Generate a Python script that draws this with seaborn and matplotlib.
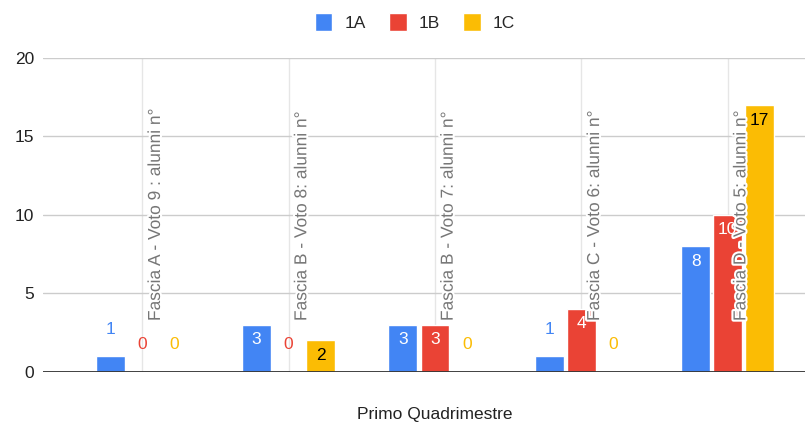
import matplotlib
matplotlib.use("Agg")
import matplotlib.pyplot as plt
import matplotlib.patheffects as pe
import seaborn as sns
import pandas as pd

categories = [
    "Fascia A - Voto 9 : alunni n°",
    "Fascia B - Voto 8: alunni n°",
    "Fascia B - Voto 7: alunni n°",
    "Fascia C - Voto 6: alunni n°",
    "Fascia D - Voto 5: alunni n°",
]
classes = ["1A", "1B", "1C"]
values_1A = [1, 3, 3, 1, 8]
values_1B = [0, 0, 3, 4, 10]
values_1C = [0, 2, 0, 0, 17]
yticks = [0, 5, 10, 15, 20]
x_title = "Primo Quadrimestre"

colors = {"1A": "#4285F4", "1B": "#EA4335", "1C": "#FBBC04"}
inside_text = {"1A": "white", "1B": "white", "1C": "black"}

rows = []
for cls, vals in zip(classes, [values_1A, values_1B, values_1C]):
    for cat, v in zip(categories, vals):
        rows.append({"categoria": cat, "classe": cls, "alunni": v})
df = pd.DataFrame(rows)

sns.set_theme(style="white")
plt.rcParams["font.family"] = ["Liberation Sans", "DejaVu Sans"]
FS = 12.5

fig = plt.figure(figsize=(8.05, 4.22), dpi=100)
ax = fig.add_axes([0.0538, 0.1192, 0.9462, 0.7434])

sns.barplot(data=df, x="categoria", y="alunni", hue="classe",
            order=categories, hue_order=classes, palette=colors,
            saturation=1, width=0.656, gap=0.095, edgecolor="white",
            linewidth=1, ax=ax, zorder=2)

handles, labels = ax.get_legend_handles_labels()
if ax.legend_ is not None:
    ax.legend_.remove()

ax.set_xlim(-0.676, 4.528)
ax.set_ylim(0, 20)
ax.set_yticks(yticks)
ax.set_xticks(range(len(categories)))
ax.set_xticklabels([""] * len(categories))
ax.set_axisbelow(True)
ax.yaxis.grid(True, color="#cccccc", linewidth=1)
ax.xaxis.grid(True, color="#e6e6e6", linewidth=1)
for s in ax.spines.values():
    s.set_visible(False)
ax.axhline(0, color="#333333", linewidth=1.3, zorder=2.5)
ax.tick_params(axis="both", length=0, labelsize=FS, colors="#222222")
ax.tick_params(axis="y", pad=6.5)
ax.set_ylabel("")

ax.set_xlabel(x_title, fontsize=FS, color="#222222")
ax.xaxis.label.set_va("baseline")
ax.xaxis.set_label_coords(0.5136, -0.150)

# category labels, rotated, inside the plot
for i, cat in enumerate(categories):
    ax.annotate(cat, xy=(i, 3.23), xytext=(4.1, 0), textcoords="offset points",
                rotation=90, ha="left", va="bottom", fontsize=FS,
                color="#777777", zorder=4,
                path_effects=[pe.withStroke(linewidth=3, foreground="white")])

# value labels
for cls, cont in zip(classes, ax.containers):
    for bar in cont:
        h = bar.get_height()
        xc = bar.get_x() + bar.get_width() / 2
        if h >= 2:
            ax.annotate(f"{int(h)}", xy=(xc, h), xytext=(0, -10.8),
                        textcoords="offset points", ha="center", va="center",
                        fontsize=FS, color=inside_text[cls], zorder=5)
        else:
            ax.annotate(f"{int(h)}", xy=(xc, h), xytext=(0, 19.4),
                        textcoords="offset points", ha="center", va="center",
                        fontsize=FS, color=colors[cls], zorder=5)

fig.legend(handles, labels, loc="center", bbox_to_anchor=(0.5155, 0.947),
           ncol=3, frameon=False, handlelength=1.0, handleheight=1.2,
           handletextpad=0.7, columnspacing=1.35, fontsize=FS, borderpad=0)

fig.savefig("out.png", dpi=100)
